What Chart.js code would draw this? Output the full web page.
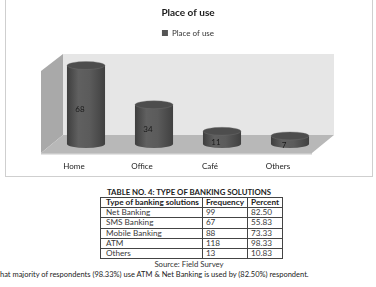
<!DOCTYPE html>
<html>
<head>
<meta charset="utf-8">
<script src="https://cdn.jsdelivr.net/npm/chart.js@4"></script>
<style>
  body { margin: 0; width: 376px; height: 287px; background: #fff; overflow: hidden; position: relative; font-family: Lato, sans-serif; color: #222; }
  #frame { position: absolute; left: 5px; top: -2px; width: 368px; height: 179px; border: 1px solid #cfcfcf; box-sizing: border-box; }
  #wrap { position: absolute; left: 0; top: 0; width: 376px; height: 176px; }
  #tblTitle { position: absolute; left: 0; width: 378px; top: 187px; text-align: center; font-weight: bold; font-size: 7.8px; }
  #tbl { position: absolute; left: 100px; top: 197px; width: 179px; border-collapse: collapse; font-size: 8.2px; }
  #tbl td, #tbl th { border: 1px solid #444; height: 9.2px; padding: 0 3px; line-height: 9px; text-align: left; color: #3a3a3a; white-space: nowrap; }
  #tbl td:first-child, #tbl th:first-child { padding-left: 5px; }
  #tbl th { font-weight: bold; color: #222; }
  #source { position: absolute; left: 0; width: 378px; top: 259px; text-align: center; font-size: 7.8px; color: #333; }
  #note { position: absolute; left: 0; top: 270px; font-size: 7.5px; white-space: nowrap; color: #222; }
</style>
</head>
<body>
<div id="frame"></div>
<div id="wrap"><canvas id="placeChart" width="376" height="176"></canvas></div>
<div id="tblTitle">TABLE NO. 4: TYPE OF BANKING SOLUTIONS</div>
<table id="tbl"><thead></thead><tbody id="tblBody"></tbody></table>
<div id="source">Source: Field Survey</div>
<div id="note">hat majority of respondents (98.33%) use ATM &amp; Net Banking is used by (82.50%) respondent.</div>
<script>
// chart data
const categories = ['Home', 'Office', 'Café', 'Others'];
const placeValues = [68, 34, 11, 7];

// table data
const tableHeader = ['Type of banking solutions', 'Frequency', 'Percent'];
const solutions = ['Net Banking', 'SMS Banking', 'Mobile Banking', 'ATM', 'Others'];
const frequencies = [99, 67, 88, 118, 13];
const percents = ['82.50', '55.83', '73.33', '98.33', '10.83'];

function buildTable() {
    const head = document.querySelector('#tbl thead');
    const hr = head.insertRow();
    tableHeader.forEach((h, i) => {
        const th = document.createElement('th');
        th.textContent = h;
        th.style.width = ['89px', '39px', '30px'][i];
        hr.appendChild(th);
    });
    const tbody = document.getElementById('tblBody');
    solutions.forEach((s, i) => {
        const row = tbody.insertRow();
        row.insertCell(0).textContent = s;
        row.insertCell(1).textContent = frequencies[i];
        row.insertCell(2).textContent = percents[i];
    });
}

// 3D box behind the cylinders: back wall, side wall, floor
const wallsPlugin = {
    id: 'walls',
    beforeDatasetsDraw(chart) {
        const ctx = chart.ctx;
        const a = chart.chartArea;
        const bl = a.left + 11, br = a.right + 10, bt = a.top + 7, bb = a.bottom - 9;
        const dx = 22, dy = 18;
        ctx.save();
        // back wall
        ctx.fillStyle = '#e6e6e6';
        ctx.fillRect(bl, bt, br - bl, bb - bt);
        // side wall
        ctx.beginPath();
        ctx.moveTo(bl - dx, bt + dy - 1);
        ctx.lineTo(bl, bt);
        ctx.lineTo(bl, bb);
        ctx.lineTo(bl - dx, bb + dy);
        ctx.closePath();
        ctx.fillStyle = '#a9a9a9';
        ctx.fill();
        // floor
        ctx.beginPath();
        ctx.moveTo(bl, bb);
        ctx.lineTo(br, bb);
        ctx.lineTo(br - dx, bb + dy);
        ctx.lineTo(bl - dx, bb + dy);
        ctx.closePath();
        ctx.fillStyle = '#b8b8b8';
        ctx.fill();
        // floor front edge
        ctx.fillStyle = '#cacaca';
        ctx.fillRect(bl - dx, bb + dy, br - bl, 1.5);
        ctx.restore();
    },
    beforeDatasetDraw() {
        return false;
    },
    afterDatasetsDraw(chart) {
        const ctx = chart.ctx;
        const meta = chart.getDatasetMeta(0);
        ctx.save();
        meta.data.forEach((bar, i) => {
            const cx = bar.x, top = bar.y, base = bar.base;
            const rx = bar.width / 2, ry = 4;
            const g = ctx.createLinearGradient(cx - rx, 0, cx + rx, 0);
            g.addColorStop(0, '#3e3e3e');
            g.addColorStop(0.3, '#606060');
            g.addColorStop(0.6, '#5b5b5b');
            g.addColorStop(1, '#404040');
            ctx.beginPath();
            ctx.moveTo(cx - rx, top);
            ctx.lineTo(cx - rx, base);
            ctx.ellipse(cx, base, rx, ry, 0, Math.PI, 0, true);
            ctx.lineTo(cx + rx, top);
            ctx.closePath();
            ctx.fillStyle = g;
            ctx.fill();
            ctx.beginPath();
            ctx.ellipse(cx, top, rx, ry, 0, 0, Math.PI * 2);
            ctx.fillStyle = '#4d4d4d';
            ctx.fill();
            ctx.strokeStyle = 'rgba(120,120,120,0.6)';
            ctx.lineWidth = 0.6;
            ctx.stroke();
            // value label
            ctx.fillStyle = '#1a1a1a';
            ctx.font = '8px Lato';
            ctx.textAlign = 'center';
            ctx.textBaseline = 'middle';
            ctx.fillText(String(placeValues[i]), cx - 6, (top + base) / 2 + 5);
        });
        ctx.restore();
    }
};

function drawChart() {
    const ctx = document.getElementById('placeChart').getContext('2d');
    new Chart(ctx, {
        type: 'bar',
        data: {
            labels: categories,
            datasets: [{
                label: 'Place of use',
                data: placeValues,
                backgroundColor: '#555555',
                barPercentage: 0.56,
                categoryPercentage: 1
            }]
        },
        options: {
            responsive: false,
            animation: false,
            layout: { padding: { left: 52, right: 52, top: 4, bottom: 0 } },
            plugins: {
                title: {
                    display: true,
                    text: 'Place of use',
                    color: '#1a1a1a',
                    font: { family: 'Lato', size: 10, weight: 'bold' },
                    padding: { top: 3, bottom: 2 }
                },
                legend: {
                    display: true,
                    labels: {
                        boxWidth: 6,
                        boxHeight: 6,
                        color: '#333',
                        font: { family: 'Lato', size: 8 },
                        padding: 8
                    }
                },
                tooltip: { enabled: false }
            },
            scales: {
                x: {
                    grid: { display: false },
                    border: { display: false },
                    ticks: {
                        color: '#222',
                        font: { family: 'Lato', size: 8 },
                        labelOffset: -12,
                        padding: 10
                    },
                    afterFit: s => { s.height = 32; }
                },
                y: { display: false, min: 0, max: 84 }
            }
        },
        plugins: [wallsPlugin]
    });
}

buildTable();
drawChart();
</script>
</body>
</html>
